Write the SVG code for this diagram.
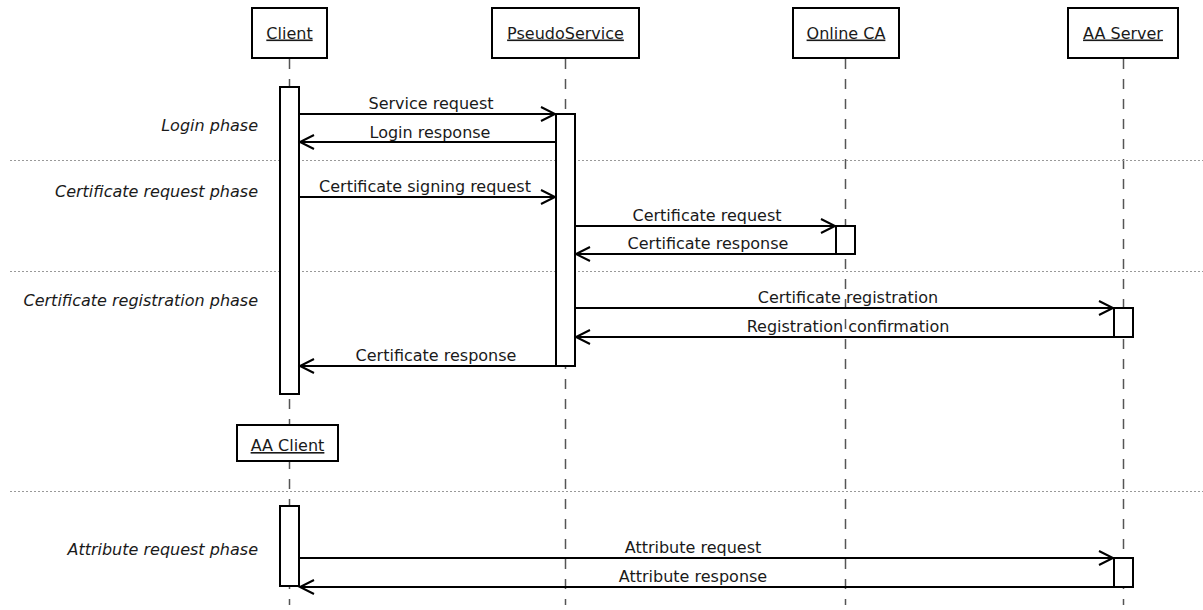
<svg xmlns="http://www.w3.org/2000/svg" width="1203" height="610" viewBox="0 0 1203 610">
<style>
text{font-family:"DejaVu Sans","Liberation Sans",sans-serif;font-size:16px;fill:#1a1a1a}
.t{text-anchor:middle;text-decoration:underline}
.m{text-anchor:middle}
.p{text-anchor:end;font-style:italic}
.box{fill:#fff;stroke:#000;stroke-width:2}
.act{fill:#fff;stroke:#000;stroke-width:2}
.life{stroke:#555;stroke-width:1.5;stroke-dasharray:10,10;fill:none}
.sep{stroke:#999;stroke-width:1;stroke-dasharray:2,2;fill:none}
.msg{stroke:#000;stroke-width:2;fill:none;marker-end:url(#ah)}
</style>
<defs>
<marker id="ah" markerUnits="userSpaceOnUse" markerWidth="20" markerHeight="20" viewBox="-16 -10 20 20" refX="0" refY="0" orient="auto">
<path d="M-14,-7 L0,0 L-14,7" fill="none" stroke="#000" stroke-width="2"/>
</marker>
</defs>
<rect width="1203" height="610" fill="#fff"/>
<g id="lifelines">
<line class="life" x1="289.5" y1="59" x2="289.5" y2="605"/>
<line class="life" x1="565.5" y1="59" x2="565.5" y2="605"/>
<line class="life" x1="845.5" y1="59" x2="845.5" y2="605"/>
<line class="life" x1="1123.5" y1="59" x2="1123.5" y2="605"/>
</g>
<g id="separators">
<line class="sep" x1="10" y1="160.5" x2="1203" y2="160.5"/>
<line class="sep" x1="10" y1="271.5" x2="1203" y2="271.5"/>
<line class="sep" x1="10" y1="491.5" x2="1203" y2="491.5"/>
</g>
<g id="phases">
<text class="p" x="258" y="131">Login phase</text>
<text class="p" x="258" y="197">Certificate request phase</text>
<text class="p" x="258" y="306">Certificate registration phase</text>
<text class="p" x="258" y="555">Attribute request phase</text>
</g>
<g id="client">
<rect class="box" x="252" y="8" width="75" height="50"/>
<text class="t" x="289.5" y="38.5">Client</text>
<rect class="act" x="280" y="87" width="19" height="307"/>
</g>
<g id="pseudoservice">
<rect class="box" x="492" y="8" width="147" height="50"/>
<text class="t" x="565.5" y="38.5">PseudoService</text>
<rect class="act" x="556" y="114" width="19" height="252"/>
</g>
<g id="onlineca">
<rect class="box" x="793" y="8" width="106" height="50"/>
<text class="t" x="846" y="38.5">Online CA</text>
<rect class="act" x="836" y="226" width="19" height="28"/>
</g>
<g id="aaserver">
<rect class="box" x="1068" y="8" width="110" height="50"/>
<text class="t" x="1123" y="38.5">AA Server</text>
<rect class="act" x="1114" y="308" width="19" height="29"/>
<rect class="act" x="1114" y="558" width="19" height="29"/>
</g>
<g id="aaclient">
<rect class="box" x="237" y="425" width="101" height="36"/>
<text class="t" x="287.5" y="451">AA Client</text>
<rect class="act" x="280" y="506" width="19" height="80"/>
</g>
<g id="connectors">
<line class="msg" x1="299" y1="114" x2="555" y2="114"/>
<line class="msg" x1="556" y1="142" x2="300" y2="142"/>
<line class="msg" x1="299" y1="197" x2="555" y2="197"/>
<line class="msg" x1="575" y1="226" x2="835" y2="226"/>
<line class="msg" x1="836" y1="254" x2="576" y2="254"/>
<line class="msg" x1="575" y1="308" x2="1113" y2="308"/>
<line class="msg" x1="1114" y1="337" x2="576" y2="337"/>
<line class="msg" x1="556" y1="366" x2="300" y2="366"/>
<line class="msg" x1="299" y1="558" x2="1113" y2="558"/>
<line class="msg" x1="1114" y1="587" x2="300" y2="587"/>
</g>
<g id="labels">
<text class="m" x="431" y="109">Service request</text>
<text class="m" x="430" y="138">Login response</text>
<text class="m" x="425" y="192">Certificate signing request</text>
<text class="m" x="707" y="221">Certificate request</text>
<text class="m" x="708" y="249">Certificate response</text>
<text class="m" x="848" y="303">Certificate registration</text>
<text class="m" x="848" y="332">Registration confirmation</text>
<text class="m" x="436" y="361">Certificate response</text>
<text class="m" x="693" y="553">Attribute request</text>
<text class="m" x="693" y="582">Attribute response</text>
</g>
</svg>
